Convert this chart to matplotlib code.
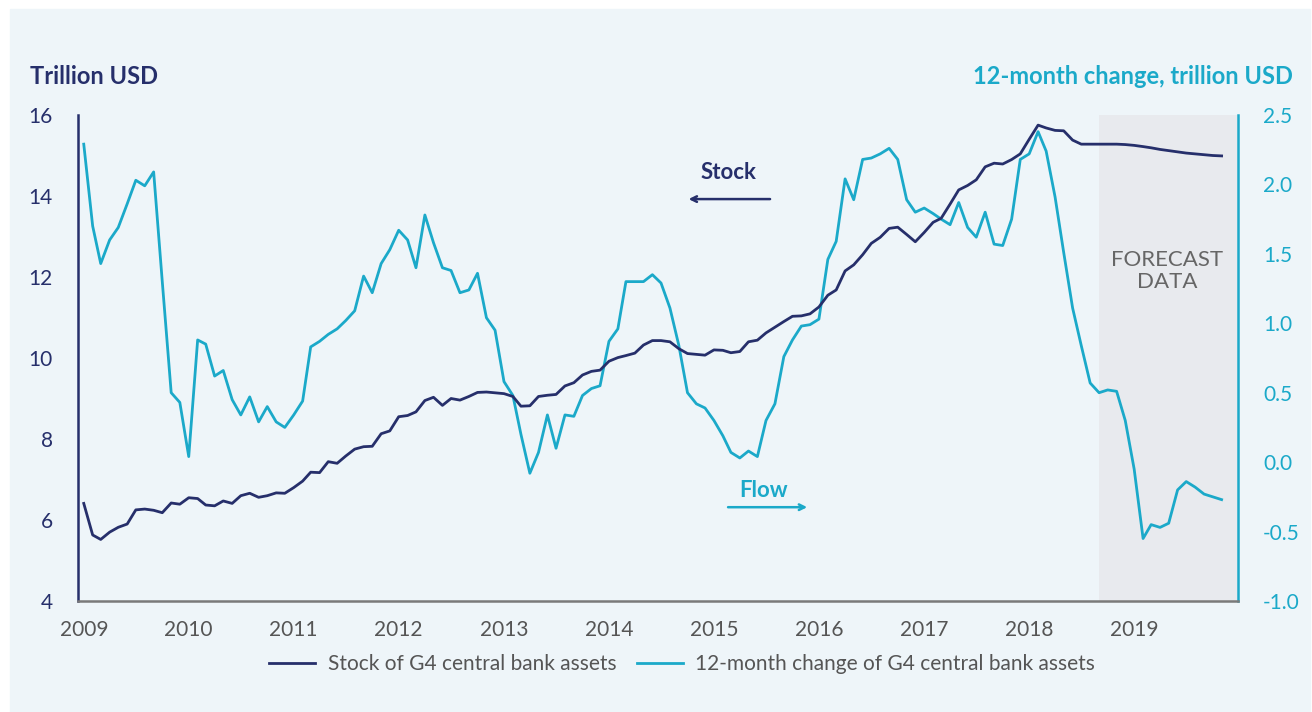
import numpy as np
import pandas as pd
import matplotlib
matplotlib.use('Agg')
import matplotlib.pyplot as plt
from matplotlib.lines import Line2D
from matplotlib.patches import Rectangle

# monthly data, Jan 2009 - Nov 2019 (trillion USD)
stock = [6.41, 5.63, 5.52, 5.70, 5.82, 5.90, 6.25, 6.27, 6.24, 6.18, 6.42, 6.39,
         6.55, 6.53, 6.37, 6.35, 6.47, 6.41, 6.60, 6.66, 6.56, 6.60, 6.67, 6.66,
         6.80, 6.96, 7.18, 7.17, 7.44, 7.40, 7.58, 7.75, 7.81, 7.82, 8.13, 8.20,
         8.55, 8.58, 8.67, 8.95, 9.03, 8.83, 9.00, 8.96, 9.05, 9.15, 9.16, 9.14,
         9.12, 9.05, 8.81, 8.82, 9.05, 9.08, 9.10, 9.31, 9.39, 9.58, 9.67, 9.70,
         9.92, 10.01, 10.06, 10.12, 10.32, 10.43, 10.43, 10.40, 10.23, 10.11, 10.09, 10.07,
         10.20, 10.19, 10.13, 10.16, 10.40, 10.44, 10.62, 10.76, 10.90, 11.03, 11.04, 11.09,
         11.26, 11.55, 11.68, 12.15, 12.30, 12.55, 12.83, 12.98, 13.20, 13.23, 13.05, 12.87,
         13.10, 13.35, 13.45, 13.80, 14.15, 14.26, 14.40, 14.72, 14.81, 14.79, 14.90, 15.04,
         15.40, 15.75, 15.68, 15.62, 15.61, 15.38, 15.28, 15.28, 15.28, 15.28, 15.28, 15.27,
         15.25, 15.22, 15.19, 15.15, 15.12, 15.09, 15.06, 15.04, 15.02, 15.00, 14.99]

flow = [2.29, 1.70, 1.43, 1.60, 1.69, 1.86, 2.03, 1.99, 2.09, 1.30, 0.50, 0.43,
        0.04, 0.88, 0.85, 0.62, 0.66, 0.45, 0.34, 0.47, 0.29, 0.40, 0.29, 0.25,
        0.34, 0.44, 0.83, 0.87, 0.92, 0.96, 1.02, 1.09, 1.34, 1.22, 1.43, 1.53,
        1.67, 1.60, 1.40, 1.78, 1.58, 1.40, 1.38, 1.22, 1.24, 1.36, 1.04, 0.95,
        0.58, 0.48, 0.20, -0.08, 0.07, 0.34, 0.10, 0.34, 0.33, 0.48, 0.53, 0.55,
        0.87, 0.96, 1.30, 1.30, 1.30, 1.35, 1.29, 1.11, 0.84, 0.50, 0.42, 0.39,
        0.30, 0.19, 0.07, 0.03, 0.08, 0.04, 0.30, 0.42, 0.76, 0.88, 0.98, 0.99,
        1.03, 1.46, 1.59, 2.04, 1.89, 2.18, 2.19, 2.22, 2.26, 2.18, 1.89, 1.80,
        1.83, 1.79, 1.75, 1.71, 1.87, 1.69, 1.62, 1.80, 1.57, 1.56, 1.75, 2.18,
        2.22, 2.38, 2.24, 1.91, 1.51, 1.11, 0.84, 0.57, 0.50, 0.52, 0.51, 0.30,
        -0.05, -0.55, -0.45, -0.47, -0.44, -0.20, -0.14, -0.18, -0.23, -0.25, -0.27]

months = pd.date_range('2009-01-01', periods=len(stock), freq='MS')
years = list(range(2009, 2020))
forecast_start = '2018-09-01'

navy = '#262f6b'
cyan = '#1ba9c9'
grey = '#555555'
bg = '#eef5f9'

plt.rcParams['font.family'] = ['Lato', 'DejaVu Sans']

fig = plt.figure(figsize=(13.12, 7.12), dpi=100)
fig.patch.set_facecolor('white')
fig.patches.append(Rectangle((10 / 1312, 0), 1300 / 1312, 1 - 9 / 712,
                             transform=fig.transFigure, color=bg, zorder=-5))

ax = fig.add_axes([78 / 1312, 1 - 601 / 712, 1160 / 1312, 486 / 712])
ax2 = ax.twinx()
ax.set_zorder(2)
ax2.set_zorder(1)
ax.set_facecolor('none')
ax2.set_facecolor('none')

x0 = pd.Timestamp('2008-12-12')
x1 = pd.Timestamp('2019-12-28')
ax2.axvspan(pd.Timestamp(forecast_start), x1, color='#e8eaee', zorder=0, lw=0)

ax.plot(months, stock, color=navy, lw=2.0, zorder=3)
ax2.plot(months, flow, color=cyan, lw=2.0, zorder=2)

ax.set_xlim(x0, x1)
ax.set_ylim(4, 16)
ax2.set_ylim(-1.0, 2.5)
ax.set_yticks([4, 6, 8, 10, 12, 14, 16])
ax2.set_yticks(np.arange(-1.0, 2.51, 0.5))
ax2.set_yticklabels([f'{v:.1f}' for v in np.arange(-1.0, 2.51, 0.5)])
ax.set_xticks([pd.Timestamp(f'{y}-01-01') for y in years])
ax.set_xticklabels([str(y) for y in years])

ax.tick_params(axis='y', length=0, pad=18, labelsize=15, labelcolor=navy)
ax2.tick_params(axis='y', length=0, pad=18, labelsize=15, labelcolor=cyan)
ax.tick_params(axis='x', length=0, pad=14, labelsize=15, labelcolor=grey)

for a in (ax, ax2):
    a.spines['top'].set_visible(False)
ax2.spines['left'].set_visible(False)
ax2.spines['bottom'].set_visible(False)
ax.spines['right'].set_visible(False)
ax.spines['left'].set_color(navy)
ax.spines['left'].set_linewidth(1.8)
ax2.spines['right'].set_color(cyan)
ax2.spines['right'].set_linewidth(1.8)
ax.spines['bottom'].set_color('#7a7a7a')
ax.spines['bottom'].set_linewidth(1.8)

# axis titles
fig.text(30 / 1312, 1 - 77 / 712, 'Trillion USD', color=navy, fontsize=17,
         fontweight='bold', ha='left', va='center')
fig.text(1293 / 1312, 1 - 77 / 712, '12-month change, trillion USD', color=cyan,
         fontsize=17, fontweight='bold', ha='right', va='center')

# labels with arrows
ax.text(0.561, 0.881, 'Stock', transform=ax.transAxes, color=navy, fontsize=16,
        fontweight='bold', ha='center', va='center')
ax.annotate('', xy=(0.524, 0.827), xytext=(0.599, 0.827), xycoords='axes fraction',
            arrowprops=dict(arrowstyle='->', color=navy, lw=1.8))
ax.text(0.591, 0.228, 'Flow', transform=ax.transAxes, color=cyan, fontsize=16,
        fontweight='bold', ha='center', va='center')
ax.annotate('', xy=(0.631, 0.193), xytext=(0.558, 0.193), xycoords='axes fraction',
            arrowprops=dict(arrowstyle='->', color=cyan, lw=1.8))

ax.text(0.939, 0.679, 'FORECAST\nDATA', transform=ax.transAxes, color='#666666',
        fontsize=16, ha='center', va='center', linespacing=1.1)

handles = [Line2D([], [], color=navy, lw=2.0), Line2D([], [], color=cyan, lw=2.0)]
leg = fig.legend(handles, ['Stock of G4 central bank assets',
                           '12-month change of G4 central bank assets'],
                 loc='center', bbox_to_anchor=(0.52, 1 - 664 / 712), ncol=2,
                 frameon=False, fontsize=15, handlelength=2.2, columnspacing=1.0,
                 handletextpad=0.6)
for t in leg.get_texts():
    t.set_color(grey)

fig.savefig('out.png', dpi=100, facecolor='white')
